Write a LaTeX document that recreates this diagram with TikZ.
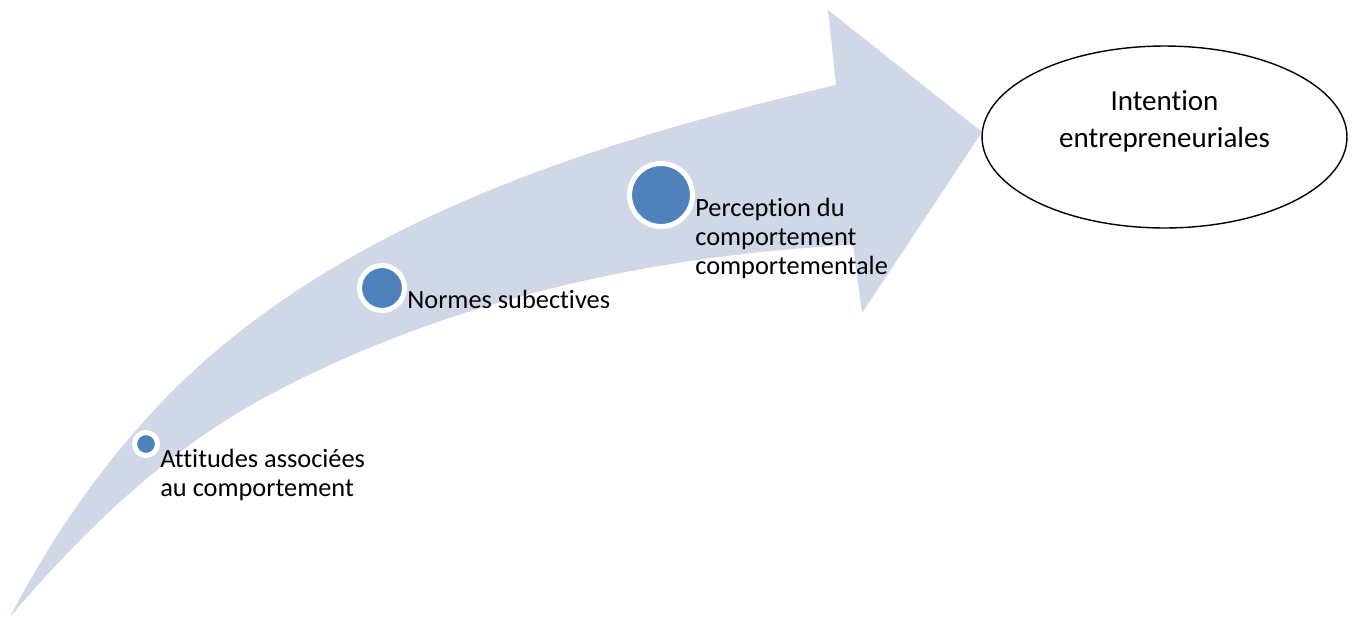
\documentclass[tikz,border=0pt]{standalone}
\usepackage{fontspec}
\setmainfont{Carlito}[Ligatures={NoCommon,NoRequired}]
\usepackage{tikz}
\usetikzlibrary{shapes.geometric,positioning}
\definecolor{bandblue}{HTML}{D0D8E8}
\definecolor{dotblue}{HTML}{4F81BD}

\begin{document}
\begin{tikzpicture}[
  x=0.02cm, y=-0.02cm,
  band/.style={fill=bandblue},
  dot/.style={circle, fill=dotblue, draw=white, line width=0.1cm, inner sep=0pt},
  lbl/.style={align=left, inner sep=0pt, font=\fontsize{15}{16.6}\selectfont},
  goal/.style={ellipse, draw, thick, fill=white, minimum width=7.3cm, minimum height=3.64cm}
]
  \useasboundingbox (0,0) rectangle (1354,619);

  % Curved arrow
  \fill[band] (10,617) .. controls (65,511) and (140,411) .. (233,337)
    .. controls (403,201) and (624,135) .. (836,85)
    -- (828,10) -- (982,132) -- (862,313) -- (853,245)
    .. controls (649,255) and (439,302) .. (260,400)
    .. controls (164,453) and (81,533) .. (10,617) -- cycle;

  % Goal
  \node[goal] (intent) at (1164.5,137) {};
  \node[lbl, align=center, anchor=base, font=\fontsize{16.5}{20.5}\selectfont]
    (intentlbl) at ([yshift=-0.2cm]intent.center) {Intention\\entrepreneuriales};

  % Steps along the arrow
  \node[dot, minimum size=0.46cm] (att) at (146,444) {};
  \node[dot, minimum size=0.9cm] (norm) at (382,288) {};
  \node[dot, minimum size=1.26cm] (perc) at (661,195) {};

  \node[lbl, anchor=base west] (attlbl) at ([yshift=-1.06cm]att.east)
    {Attitudes associées\\au comportement};
  \node[lbl, anchor=base west] (normlbl) at ([yshift=-0.40cm]norm.east)
    {Normes subectives};
  \node[lbl, anchor=base west] (perclbl) at ([yshift=-1.6cm]perc.east)
    {Perception du\\comportement\\comportementale};
\end{tikzpicture}
\end{document}
